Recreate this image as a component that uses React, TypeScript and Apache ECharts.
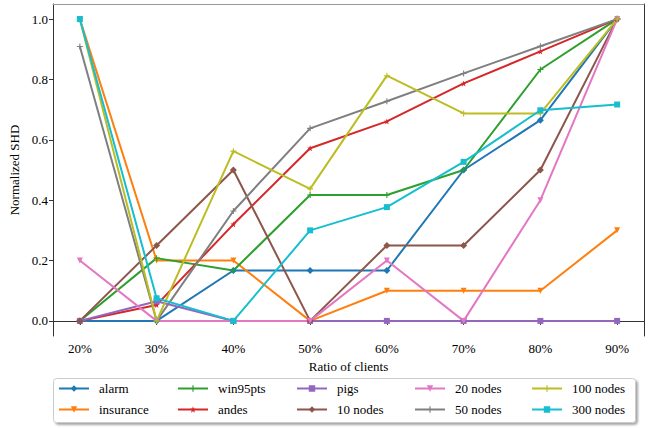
import React, { useEffect, useRef } from "react";
import * as echarts from "echarts";

const ratios = [20, 30, 40, 50, 60, 70, 80, 90];
const yTicks = [0, 0.2, 0.4, 0.6, 0.8, 1.0];

const alarm = [0, 0, 0.167, 0.167, 0.167, 0.5, 0.665, 1];
const insurance = [1, 0.2, 0.2, 0, 0.1, 0.1, 0.1, 0.3];
const win95pts = [0, 0.208, 0.167, 0.417, 0.417, 0.5, 0.833, 1];
const andes = [0, 0.053, 0.32, 0.572, 0.661, 0.787, 0.893, 1];
const pigs = [0, 0.065, 0, 0, 0, 0, 0, 0];
const nodes10 = [0, 0.25, 0.5, 0, 0.25, 0.25, 0.5, 1];
const nodes20 = [0.2, 0, 0, 0, 0.2, 0, 0.4, 1];
const nodes50 = [0.909, 0, 0.364, 0.638, 0.728, 0.82, 0.91, 1];
const nodes100 = [1, 0, 0.5625, 0.4375, 0.8125, 0.6875, 0.6875, 1];
const nodes300 = [1, 0.075, 0, 0.3, 0.377, 0.527, 0.698, 0.717];

const DIAMOND = "path://M0,-1L0.6,0L0,1L-0.6,0Z";
const TRI_DOWN = "path://M-1,-0.8L1,-0.8L0,1Z";
const PLUS = "path://M-0.18,-1H0.18V-0.18H1V0.18H0.18V1H-0.18V0.18H-1V-0.18H-0.18Z";
const STAR =
  "path://M0,-1L0.24,-0.31L0.95,-0.31L0.38,0.12L0.59,0.81L0,0.4L-0.59,0.81L-0.38,0.12L-0.95,-0.31L-0.24,-0.31Z";

const seriesDefs = [
  { name: "alarm", data: alarm, color: "#1f77b4", symbol: DIAMOND, size: 7 },
  { name: "insurance", data: insurance, color: "#ff7f0e", symbol: TRI_DOWN, size: 6 },
  { name: "win95pts", data: win95pts, color: "#2ca02c", symbol: PLUS, size: 6 },
  { name: "andes", data: andes, color: "#d62728", symbol: STAR, size: 6 },
  { name: "pigs", data: pigs, color: "#9467bd", symbol: "rect", size: 6 },
  { name: "10 nodes", data: nodes10, color: "#8c564b", symbol: DIAMOND, size: 7 },
  { name: "20 nodes", data: nodes20, color: "#e377c2", symbol: TRI_DOWN, size: 6 },
  { name: "50 nodes", data: nodes50, color: "#7f7f7f", symbol: PLUS, size: 6 },
  { name: "100 nodes", data: nodes100, color: "#bcbd22", symbol: PLUS, size: 6 },
  { name: "300 nodes", data: nodes300, color: "#17becf", symbol: "rect", size: 6 },
];

const legendColumns = [
  ["alarm", "insurance"],
  ["win95pts", "andes"],
  ["pigs", "10 nodes"],
  ["20 nodes", "50 nodes"],
  ["100 nodes", "300 nodes"],
];

const FONT = "Liberation Serif";

export default function App() {
  const ref = useRef<HTMLDivElement>(null);

  useEffect(() => {
    if (!ref.current) return;
    const chart = echarts.init(ref.current, null, { renderer: "svg" });
    const colLeft = [58, 177, 296, 414, 531];
    const txt = { fontFamily: FONT, fontSize: 13, color: "#000", fontWeight: "normal" };
    const option: any = {
      animation: false,
      backgroundColor: "#ffffff",
      textStyle: { fontFamily: FONT },
      grid: { left: 38, right: 4, top: 4, bottom: 92, containLabel: false },
      xAxis: [
        {
          type: "value",
          min: 16.5,
          max: 93.5,
          name: "Ratio of clients",
          nameLocation: "middle",
          nameGap: 24,
          nameMoveOverlap: false,
          nameTextStyle: txt,
          axisLine: { show: true, lineStyle: { color: "#333", width: 1 } },
          axisTick: {
            show: true,
            customValues: ratios,
            length: 4,
            lineStyle: { color: "#333" },
          },
          axisLabel: {
            customValues: ratios,
            formatter: (v: number) => v + "%",
            ...txt,
            margin: 6,
          },
          splitLine: { show: false },
        },
        {
          type: "value",
          position: "top",
          min: 16.5,
          max: 93.5,
          axisLine: { show: true, onZero: false, lineStyle: { color: "#999", width: 1 } },
          axisTick: { show: false },
          axisLabel: { show: false },
          splitLine: { show: false },
        },
      ],
      yAxis: [
        {
          type: "value",
          min: -0.05,
          max: 1.05,
          name: "Normalized SHD",
          nameLocation: "middle",
          nameGap: 32,
          nameMoveOverlap: false,
          nameTextStyle: txt,
          axisLine: { show: true, lineStyle: { color: "#333", width: 1 } },
          axisTick: {
            show: true,
            customValues: yTicks,
            length: 4,
            lineStyle: { color: "#333" },
          },
          axisLabel: {
            customValues: yTicks,
            formatter: (v: number) => v.toFixed(1),
            ...txt,
            margin: 5,
          },
          splitLine: { show: false },
        },
        {
          type: "value",
          position: "right",
          min: -0.05,
          max: 1.05,
          axisLine: { show: true, onZero: false, lineStyle: { color: "#333", width: 1 } },
          axisTick: { show: false },
          axisLabel: { show: false },
          splitLine: { show: false },
        },
      ],
      legend: legendColumns.map((col, i) => ({
        data: col,
        orient: "vertical",
        left: colLeft[i],
        top: 382,
        itemWidth: 30,
        itemHeight: 8,
        itemGap: 8,
        textStyle: { ...txt, padding: [0, 0, 0, 5] },
        padding: 0,
      })),
      graphic: [
        {
          type: "rect",
          left: 53,
          top: 378,
          shape: { width: 582, height: 44, r: 3 },
          style: {
            fill: "#fff",
            stroke: "#cccccc",
            lineWidth: 1,
            shadowBlur: 2,
            shadowOffsetX: 2,
            shadowOffsetY: 2,
            shadowColor: "rgba(0,0,0,0.35)",
          },
          z: -10,
          silent: true,
        },
      ],
      series: seriesDefs.map((s) => ({
        name: s.name,
        type: "line",
        data: s.data.map((v, i) => [ratios[i], v]),
        symbol: s.symbol,
        symbolSize: s.size,
        showSymbol: true,
        color: s.color,
        itemStyle: { color: s.color },
        lineStyle: { color: s.color, width: 2 },
        emphasis: { disabled: true },
      })),
    };
    chart.setOption(option);
    return () => chart.dispose();
  }, []);

  return (
    <div
      ref={ref}
      style={{ width: 648, height: 428, position: "absolute", left: 0, top: 0 }}
    />
  );
}
